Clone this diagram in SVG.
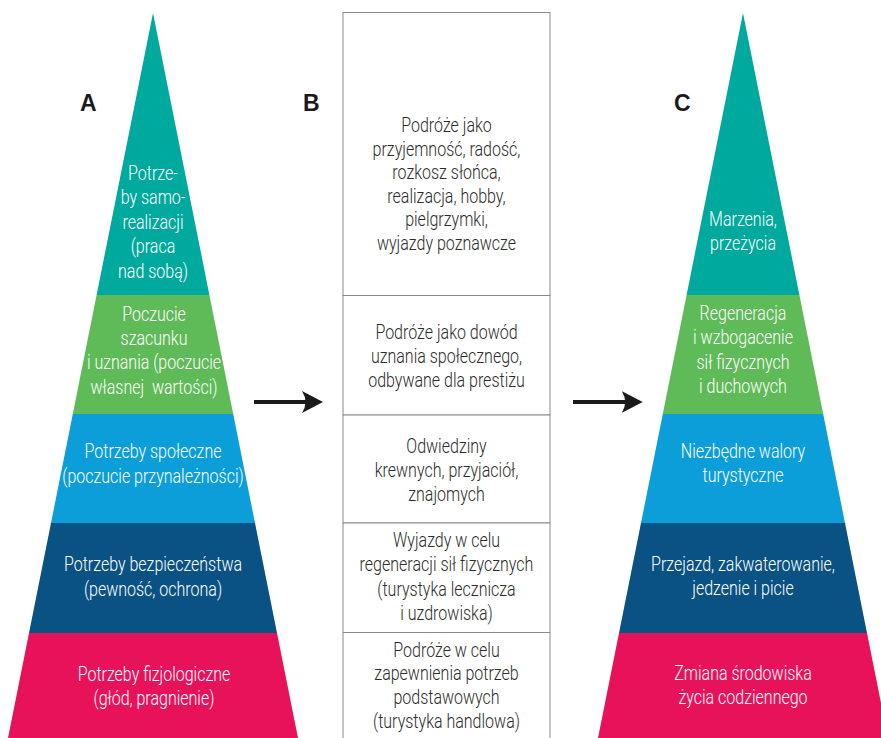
<svg xmlns="http://www.w3.org/2000/svg" width="881" height="738" viewBox="0 0 881 738">
<style>
.t{font-family:Roboto,"Liberation Sans",sans-serif;font-weight:300;font-size:20px;text-anchor:middle}
.w{fill:#ffffff}
.d{fill:#2b2b2b}
.lbl{font-family:"Liberation Sans",Arial,sans-serif;font-weight:bold;font-size:23px;fill:#1a1a1a}
.teal{fill:#00a99d}
.green{fill:#5fba58}
.lblue{fill:#0b9ed9}
.dblue{fill:#0a5283}
.pink{fill:#e8125b}
.cell{fill:#ffffff;stroke:#8a8a8a;stroke-width:1}
.arr{stroke:#1a1a1a;stroke-width:4;fill:none;marker-end:url(#ah)}
</style>
<defs>
<marker id="ah" markerUnits="userSpaceOnUse" markerWidth="22" markerHeight="22" viewBox="0 0 22 22" refX="13" refY="11" orient="auto">
<path d="M0,0 L21,11 L0,22 Q7,11 0,0 Z" fill="#1a1a1a"/>
</marker>
</defs>

<text class="lbl" x="80" y="111">A</text>
<text class="lbl" x="303" y="111">B</text>
<text class="lbl" x="674" y="111">C</text>

<g id="pyramidA">
<g id="A1"><polygon class="teal" points="153,13 209.4,295 96.6,295"/>
<g transform="translate(153,180) scale(0.8,1)"><text class="t w"><tspan x="0">Potrze-</tspan><tspan x="0" dy="24.5">by samo-</tspan><tspan x="0" dy="24.5">realizacji</tspan><tspan x="0" dy="24.5">(praca</tspan><tspan x="0" dy="24.5">nad sobą)</tspan></text></g></g>
<g id="A2"><polygon class="green" points="96.6,295 209.4,295 233.2,414 72.8,414"/>
<g transform="translate(154,320.5) scale(0.8,1)"><text class="t w"><tspan x="0">Poczucie</tspan><tspan x="0" dy="24.5">szacunku</tspan><tspan x="0" dy="24.5">i uznania (poczucie</tspan><tspan x="0" dy="24.5">własnej&#160; wartości)</tspan></text></g></g>
<g id="A3"><polygon class="lblue" points="72.8,414 233.2,414 255,523 51,523"/>
<g transform="translate(153,458) scale(0.8,1)"><text class="t w"><tspan x="0">Potrzeby społeczne</tspan><tspan x="0" dy="25">(poczucie przynależności)</tspan></text></g></g>
<g id="A4"><polygon class="dblue" points="51,523 255,523 277,633 29,633"/>
<g transform="translate(153,571) scale(0.8,1)"><text class="t w"><tspan x="0">Potrzeby bezpieczeństwa</tspan><tspan x="0" dy="25">(pewność, ochrona)</tspan></text></g></g>
<g id="A5"><polygon class="pink" points="29,633 277,633 298,738 8,738"/>
<g transform="translate(154,680.5) scale(0.8,1)"><text class="t w"><tspan x="0">Potrzeby fizjologiczne</tspan><tspan x="0" dy="24.5">(głód, pragnienie)</tspan></text></g></g>
</g>

<g id="columnB">
<g id="B1"><rect class="cell" x="343" y="12.5" width="207" height="283"/>
<g transform="translate(446.5,132) scale(0.8,1)"><text class="t d"><tspan x="0">Podróże jako</tspan><tspan x="0" dy="23.6">przyjemność, radość,</tspan><tspan x="0" dy="23.6">rozkosz słońca,</tspan><tspan x="0" dy="23.6">realizacja, hobby,</tspan><tspan x="0" dy="23.6">pielgrzymki,</tspan><tspan x="0" dy="23.6">wyjazdy poznawcze</tspan></text></g></g>
<g id="B2"><rect class="cell" x="343" y="295.5" width="207" height="119.5"/>
<g transform="translate(446.5,338.5) scale(0.8,1)"><text class="t d"><tspan x="0">Podróże jako dowód</tspan><tspan x="0" dy="24.5">uznania społecznego,</tspan><tspan x="0" dy="24.5">odbywane dla prestiżu</tspan></text></g></g>
<g id="B3"><rect class="cell" x="343" y="415" width="207" height="108"/>
<g transform="translate(446.5,453) scale(0.8,1)"><text class="t d"><tspan x="0">Odwiedziny</tspan><tspan x="0" dy="24">krewnych, przyjaciół,</tspan><tspan x="0" dy="24">znajomych</tspan></text></g></g>
<g id="B4"><rect class="cell" x="343" y="523" width="207" height="109.5"/>
<g transform="translate(446.5,547) scale(0.8,1)"><text class="t d"><tspan x="0">Wyjazdy w celu</tspan><tspan x="0" dy="24.5">regeneracji sił fizycznych</tspan><tspan x="0" dy="24.5">(turystyka lecznicza</tspan><tspan x="0" dy="24.5">i uzdrowiska)</tspan></text></g></g>
<g id="B5"><path class="cell" d="M343,740 V632.5 H550 V740"/>
<g transform="translate(446.5,656.5) scale(0.8,1)"><text class="t d"><tspan x="0">Podróże w celu</tspan><tspan x="0" dy="24">zapewnienia potrzeb</tspan><tspan x="0" dy="24">podstawowych</tspan><tspan x="0" dy="24">(turystyka handlowa)</tspan></text></g></g>
</g>

<g id="pyramidC">
<g id="C1"><polygon class="teal" points="743,13 799.4,295 686.6,295"/>
<g transform="translate(743,226) scale(0.8,1)"><text class="t w"><tspan x="0">Marzenia,</tspan><tspan x="0" dy="24.5">przeżycia</tspan></text></g></g>
<g id="C2"><polygon class="green" points="686.6,295 799.4,295 823.2,414 662.8,414"/>
<g transform="translate(743,320) scale(0.8,1)"><text class="t w"><tspan x="0">Regeneracja</tspan><tspan x="0" dy="24.5">i wzbogacenie</tspan><tspan x="0" dy="24.5">sił fizycznych</tspan><tspan x="0" dy="24.5">i duchowych</tspan></text></g></g>
<g id="C3"><polygon class="lblue" points="662.8,414 823.2,414 845,523 641,523"/>
<g transform="translate(743,458) scale(0.8,1)"><text class="t w"><tspan x="0">Niezbędne walory</tspan><tspan x="0" dy="24.5">turystyczne</tspan></text></g></g>
<g id="C4"><polygon class="dblue" points="641,523 845,523 867,633 619,633"/>
<g transform="translate(743,570.5) scale(0.8,1)"><text class="t w"><tspan x="0">Przejazd, zakwaterowanie,</tspan><tspan x="0" dy="24.5">jedzenie i picie</tspan></text></g></g>
<g id="C5"><polygon class="pink" points="619,633 867,633 888,738 598,738"/>
<g transform="translate(743,680) scale(0.8,1)"><text class="t w"><tspan x="0">Zmiana środowiska</tspan><tspan x="0" dy="24">życia codziennego</tspan></text></g></g>
</g>

<g id="connectors">
<line class="arr" x1="254" y1="402" x2="315" y2="402"/>
<line class="arr" x1="573" y1="402" x2="634.7" y2="402"/>
</g>
</svg>
